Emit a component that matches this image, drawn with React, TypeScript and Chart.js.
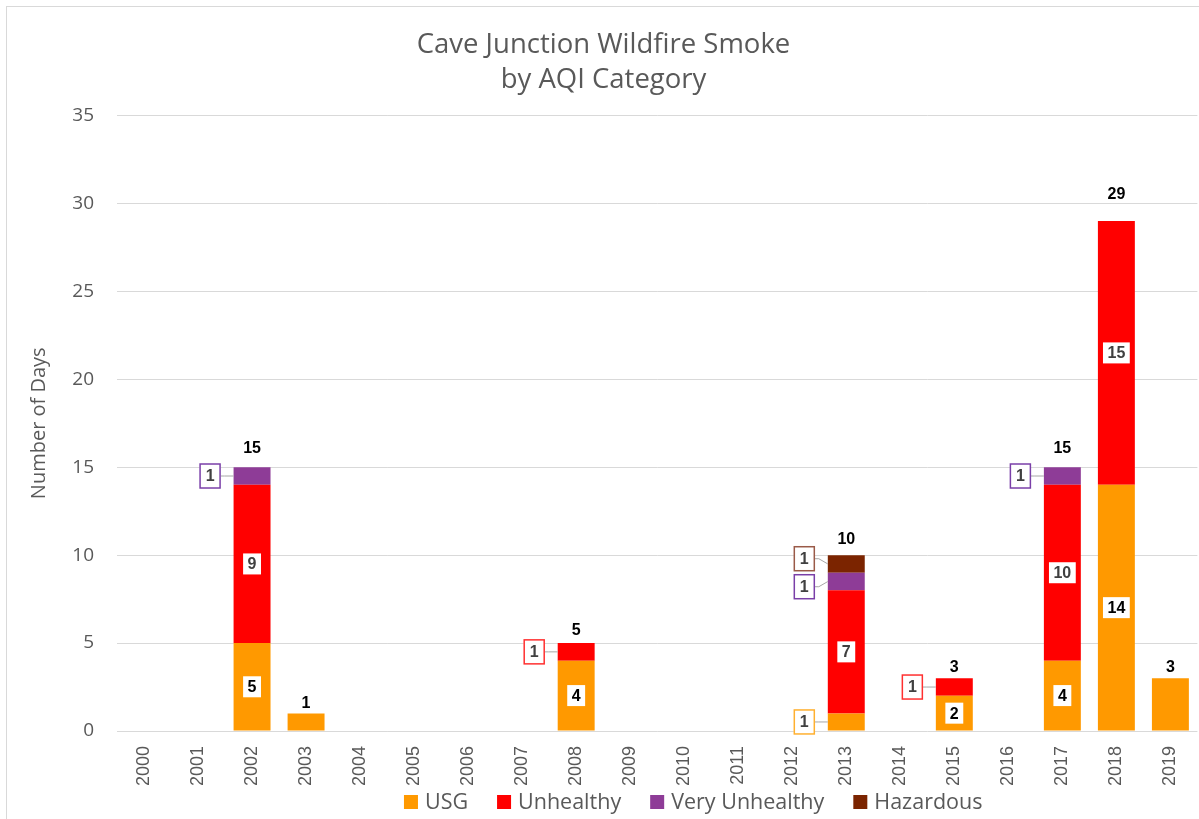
import React, { useEffect, useRef } from 'react';
import { Chart, registerables } from 'chart.js';

Chart.register(...registerables);

const years = ['2000', '2001', '2002', '2003', '2004', '2005', '2006', '2007', '2008', '2009', '2010', '2011', '2012', '2013', '2014', '2015', '2016', '2017', '2018', '2019'];
const usgDays = [0, 0, 5, 1, 0, 0, 0, 0, 4, 0, 0, 0, 0, 1, 0, 2, 0, 4, 14, 3];
const unhealthyDays = [0, 0, 9, 0, 0, 0, 0, 0, 1, 0, 0, 0, 0, 7, 0, 1, 0, 10, 15, 0];
const veryUnhealthyDays = [0, 0, 1, 0, 0, 0, 0, 0, 0, 0, 0, 0, 0, 1, 0, 0, 0, 1, 0, 0];
const hazardousDays = [0, 0, 0, 0, 0, 0, 0, 0, 0, 0, 0, 0, 0, 1, 0, 0, 0, 0, 0, 0];

const seriesNames = ['USG', 'Unhealthy', 'Very Unhealthy', 'Hazardous'];
const seriesColors = ['#FF9900', '#FF0000', '#8E3C97', '#7B2400'];
const calloutBorders = ['#FFB030', '#FF3030', '#7A3FA8', '#9A5A48'];
const innerTextColors = ['#000000', '#404040', '#404040', '#404040'];

const yMax = 35;
const yStep = 5;

const GRAY_TEXT = '#595959';
const SANS = '"Open Sans", "Liberation Sans", sans-serif';

const framePlugin = {
  id: 'frame',
  beforeDraw(chart: any) {
    const ctx = chart.ctx;
    ctx.save();
    ctx.fillStyle = '#FFFFFF';
    ctx.fillRect(0, 0, chart.width, chart.height);
    ctx.strokeStyle = '#D9D9D9';
    ctx.lineWidth = 1;
    ctx.strokeRect(6.5, 6.5, chart.width + 20, chart.height + 20);
    ctx.restore();
  },
};

const legendPlugin = {
  id: 'customLegend',
  afterDraw(chart: any) {
    const ctx = chart.ctx;
    ctx.save();
    ctx.font = '21.5px ' + SANS;
    ctx.textBaseline = 'middle';
    ctx.textAlign = 'left';
    const box = 14;
    const gapText = 7;
    const gapItem = 29;
    const items = chart.data.datasets.map((ds: any) => ({
      text: ds.label,
      color: ds.backgroundColor,
      w: ctx.measureText(ds.label).width,
    }));
    const total = items.reduce((a: number, it: any) => a + box + gapText + it.w, 0) + gapItem * (items.length - 1);
    const centerX = (chart.chartArea.left + chart.chartArea.right) / 2 + 36;
    const cy = chart.chartArea.bottom + 71;
    let x = centerX - total / 2;
    items.forEach((it: any) => {
      ctx.fillStyle = it.color;
      ctx.fillRect(x, cy - box / 2, box, box);
      ctx.fillStyle = GRAY_TEXT;
      ctx.fillText(it.text, x + box + gapText, cy + 1);
      x += box + gapText + it.w + gapItem;
    });
    ctx.restore();
  },
};

const labelPlugin = {
  id: 'aqiLabels',
  afterDatasetsDraw(chart: any) {
    const ctx = chart.ctx;
    const yScale = chart.scales.y;
    const n = chart.data.labels.length;
    ctx.save();
    ctx.font = 'bold 16px "Liberation Sans", Arial, sans-serif';
    ctx.textAlign = 'center';
    ctx.textBaseline = 'middle';
    for (let j = 0; j < n; j++) {
      const segs: any[] = [];
      chart.data.datasets.forEach((ds: any, i: number) => {
        const v = ds.data[j] as number;
        if (v > 0) segs.push({ i, v, el: chart.getDatasetMeta(i).data[j] });
      });
      if (!segs.length) continue;
      const total = segs.reduce((a, s) => a + s.v, 0);
      const x = segs[0].el.x;
      ctx.fillStyle = '#000000';
      ctx.fillText(String(total), x, yScale.getPixelForValue(total * 1.035) - 9);
      if (segs.length < 2) continue;
      const callouts: any[] = [];
      segs.forEach((s) => {
        const p = s.el.getProps(['x', 'y', 'base', 'width'], true);
        const cy = (p.y + p.base) / 2;
        if (s.v >= 2) {
          const txt = String(s.v);
          const w = ctx.measureText(txt).width + 9;
          const h = 21;
          ctx.fillStyle = '#FFFFFF';
          ctx.fillRect(p.x - w / 2, cy - h / 2, w, h);
          ctx.fillStyle = innerTextColors[s.i];
          ctx.fillText(txt, p.x, cy + 1);
        } else {
          callouts.push({ s, cy, by: cy, left: p.x - p.width / 2 });
        }
      });
      callouts.sort((a, b) => a.cy - b.cy);
      const minGap = 28;
      for (let k = 1; k < callouts.length; k++) {
        const a = callouts[k - 1];
        const b = callouts[k];
        if (b.by - a.by < minGap) {
          const mid = (a.by + b.by) / 2;
          a.by = mid - minGap / 2;
          b.by = mid + minGap / 2;
        }
      }
      callouts.forEach((c) => {
        const bw = 21;
        const bh = 25;
        const right = c.left - 13;
        const bx = right - bw;
        const top = c.by - bh / 2;
        ctx.strokeStyle = '#A6A6A6';
        ctx.lineWidth = 1;
        ctx.beginPath();
        ctx.moveTo(right, c.by);
        ctx.lineTo(right + 4, c.by);
        ctx.lineTo(c.left, c.cy);
        ctx.stroke();
        ctx.fillStyle = '#FFFFFF';
        ctx.fillRect(bx, top, bw, bh);
        ctx.strokeStyle = calloutBorders[c.s.i];
        ctx.lineWidth = 1.5;
        ctx.strokeRect(bx + 0.5, top + 0.5, bw - 1, bh - 1);
        ctx.fillStyle = '#404040';
        ctx.fillText(String(c.s.v), bx + bw / 2, c.by + 1);
      });
    }
    ctx.restore();
  },
};

export default function App() {
  const canvasRef = useRef<HTMLCanvasElement | null>(null);

  useEffect(() => {
    if (!canvasRef.current) return;
    const seriesData = [usgDays, unhealthyDays, veryUnhealthyDays, hazardousDays];
    const chart = new Chart(canvasRef.current, {
      type: 'bar',
      data: {
        labels: years,
        datasets: seriesData.map((d, i) => ({
          label: seriesNames[i],
          data: d,
          backgroundColor: seriesColors[i],
          borderWidth: 0,
          barPercentage: 0.684,
          categoryPercentage: 1,
        })),
      },
      options: {
        responsive: false,
        animation: false,
        devicePixelRatio: 1,
        layout: { padding: { left: 8, right: 0, top: 0, bottom: 22 } },
        plugins: {
          title: {
            display: true,
            text: ['Cave Junction Wildfire Smoke', 'by AQI Category'],
            color: GRAY_TEXT,
            font: { family: SANS, size: 27.5, weight: 'normal', lineHeight: 1.3 },
            padding: { top: 27, bottom: 17 },
          },
          legend: { display: false },
          tooltip: { enabled: false },
        },
        scales: {
          x: {
            stacked: true,
            grid: { display: false },
            border: { display: false },
            ticks: {
              color: GRAY_TEXT,
              font: { family: '"Liberation Sans", Arial, sans-serif', size: 18 },
              minRotation: 90,
              maxRotation: 90,
              autoSkip: false,
              padding: 7,
            },
            afterFit: (s: any) => {
              s.height = 66;
            },
          },
          y: {
            stacked: true,
            min: 0,
            max: yMax,
            ticks: {
              stepSize: yStep,
              color: GRAY_TEXT,
              font: { family: SANS, size: 19 },
              padding: 23,
            },
            grid: { color: '#D9D9D9', drawTicks: false },
            border: { display: false },
            title: {
              display: true,
              text: 'Number of Days',
              color: GRAY_TEXT,
              font: { family: SANS, size: 20 },
              padding: { top: 19, bottom: 0 },
            },
            afterFit: (s: any) => {
              s.width = 109;
            },
          },
        },
      } as any,
      plugins: [framePlugin, labelPlugin, legendPlugin],
    });
    return () => chart.destroy();
  }, []);

  return (
    <div style={{ position: 'fixed', left: 0, top: 0, width: 1199, height: 819, background: '#fff' }}>
      <canvas ref={canvasRef} width={1199} height={819} style={{ display: 'block' }} />
    </div>
  );
}
